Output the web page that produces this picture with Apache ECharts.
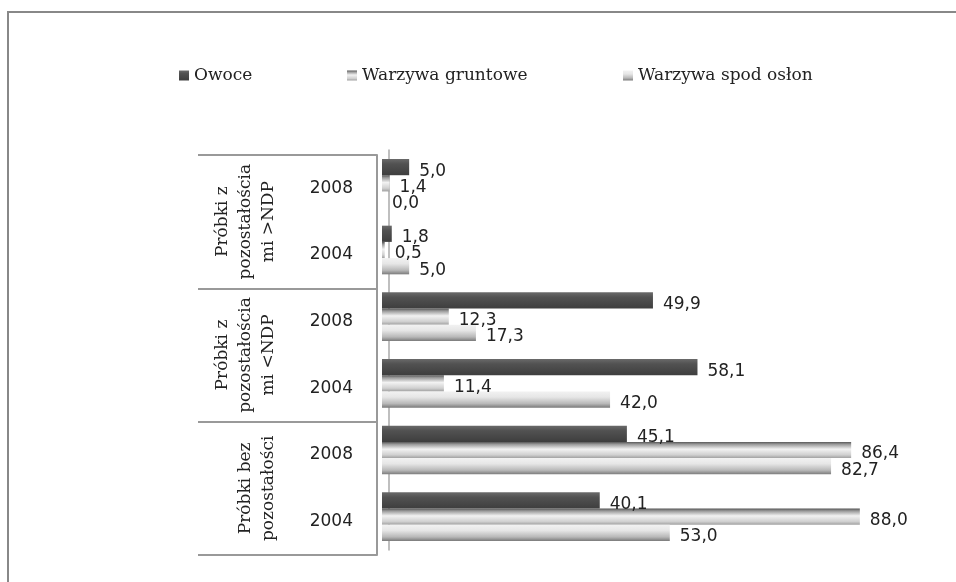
<!DOCTYPE html>
<html>
<head>
<meta charset="utf-8">
<script src="https://cdn.jsdelivr.net/npm/echarts@6/dist/echarts.min.js"></script>
<style>
html,body{margin:0;padding:0;background:#fff;}
#chart{width:956px;height:582px;}
</style>
</head>
<body>
<div id="chart"></div>
<script>
// Categories (bottom to top)
var years = ['2004', '2008', '2004', '2008', '2004', '2008'];
var groups = ['Próbki bez\npozostałości', 'Próbki z\npozostałościa\nmi <NDP', 'Próbki z\npozostałościa\nmi >NDP'];
var seriesNames = ['Owoce', 'Warzywa gruntowe', 'Warzywa spod osłon'];
var owoce = [40.1, 45.1, 58.1, 49.9, 1.8, 5.0];
var gruntowe = [88.0, 86.4, 11.4, 12.3, 0.5, 1.4];
var spodOslon = [53.0, 82.7, 42.0, 17.3, 5.0, 0.0];

var chart = echarts.init(document.getElementById('chart'));
function grad(stops) {
  return new echarts.graphic.LinearGradient(0, 0, 0, 1, stops.map(function (s) { return { offset: s[0], color: s[1] }; }));
}
var colors = [
  grad([[0, '#6a6a6a'], [0.3, '#525252'], [1, '#3e3e3e']]),
  grad([[0, '#555555'], [0.15, '#9a9a9a'], [0.45, '#f2f2f2'], [0.8, '#d0d0d0'], [1, '#a0a0a0']]),
  grad([[0, '#f2f2f2'], [0.35, '#e6e6e6'], [0.75, '#b8b8b8'], [1, '#7a7a7a']])
];
var labelStyle = {
  show: true,
  position: 'right',
  distance: 10,
  offset: [0, 4],
  color: '#222',
  fontFamily: 'DejaVu Sans',
  fontSize: 17,
  formatter: function (p) { return p.value.toFixed(1).replace('.', ','); }
};
var datasets = [owoce, gruntowe, spodOslon];
var series = datasets.map(function (d, i) {
  return {
    name: seriesNames[i],
    type: 'bar',
    xAxisIndex: 1,
    yAxisIndex: 2,
    data: d,
    barGap: '0%',
    barCategoryGap: '27%',
    itemStyle: { color: colors[i] },
    label: labelStyle
  };
});
var legendText = { fontFamily: 'DejaVu Serif', fontSize: 17, color: '#222' };
function legendAt(name, left) {
  return {
    data: [name], left: left, top: 62, itemWidth: 10, itemHeight: 10, itemGap: 0,
    icon: 'rect', textStyle: legendText, selectedMode: false
  };
}
chart.setOption({
  animation: false,
  backgroundColor: '#fff',
  legend: [legendAt(seriesNames[0], 174), legendAt(seriesNames[1], 342), legendAt(seriesNames[2], 618)],
  grid: [
    { left: 382, right: 31, top: 155, bottom: 27, containLabel: false },
    { left: 382, right: 31, top: 150, bottom: 32, containLabel: false }
  ],
  xAxis: [
    { type: 'value', gridIndex: 0, min: 0, max: 100, show: false },
    { type: 'value', gridIndex: 1, min: 0, max: 100, show: false }
  ],
  yAxis: [
    {
      type: 'category', gridIndex: 0, data: years,
      axisLine: { show: false }, axisTick: { show: false },
      axisLabel: { interval: 0, margin: 29, fontFamily: 'DejaVu Sans', fontSize: 17, color: '#222' }
    },
    {
      type: 'category', gridIndex: 0, data: groups, position: 'left', offset: 5,
      axisLine: { show: true, lineStyle: { color: '#999', width: 2 } },
      axisTick: { show: true, interval: 0, length: 179, lineStyle: { color: '#999', width: 2 } },
      axisLabel: { interval: 0, rotate: 90, margin: 97, lineHeight: 23, fontFamily: 'DejaVu Serif', fontSize: 17, color: '#222', align: 'center' }
    },
    {
      type: 'category', gridIndex: 1, data: years, position: 'left', offset: -7,
      axisLine: { show: true, lineStyle: { color: '#aaa', width: 1.5 } },
      axisTick: { show: false }, axisLabel: { show: false }
    }
  ],
  graphic: [{
    type: 'polyline', silent: true,
    shape: { points: [[8, 582], [8, 12], [956, 12]] },
    style: { stroke: '#888', lineWidth: 2, fill: null }
  }],
  series: series
});
</script>
</body>
</html>
